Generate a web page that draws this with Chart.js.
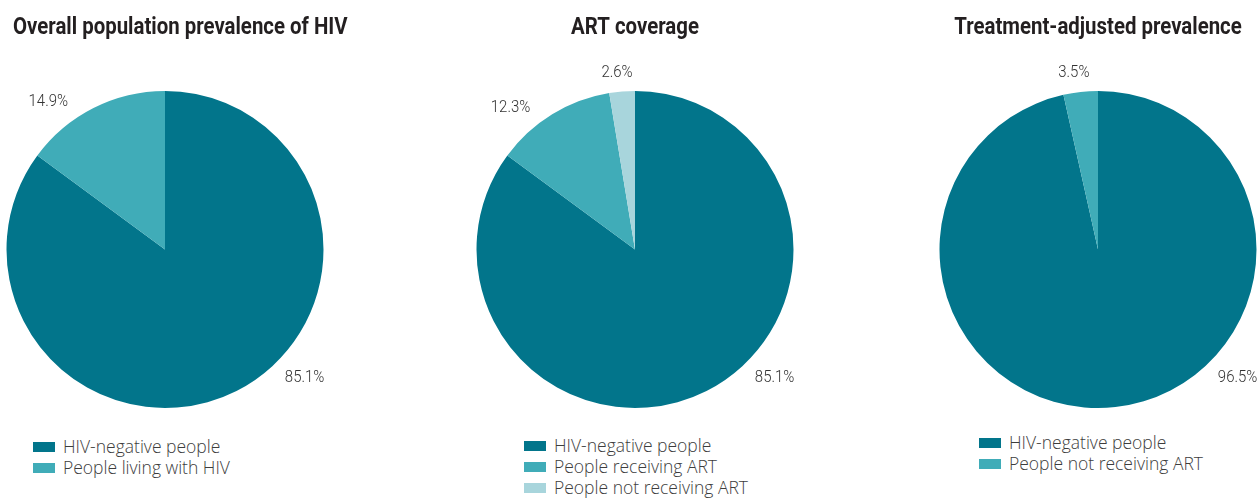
<!DOCTYPE html>
<html lang="en">
<head>
  <meta charset="UTF-8" />
  <title>HIV prevalence pies</title>
  <style>
    body {
      margin: 0;
      width: 1257px;
      height: 500px;
      overflow: hidden;
      background: #fff;
      position: relative;
      font-family: 'Open Sans', 'Noto Sans', sans-serif;
    }
    .pie {
      position: absolute;
      top: 0;
    }
    .legend {
      position: absolute;
      font-size: 17.5px;
      font-weight: 300;
      color: #3d3d3d;
      line-height: 21px;
    }
    .legend div {
      display: flex;
      align-items: center;
      white-space: nowrap;
    }
    .legend span.box {
      display: inline-block;
      width: 22px;
      height: 10px;
      margin-right: 8px;
    }
  </style>
</head>
<body>
  <canvas id="pie1" class="pie" width="400" height="420" style="left:-35px"></canvas>
  <canvas id="pie2" class="pie" width="400" height="420" style="left:435px"></canvas>
  <canvas id="pie3" class="pie" width="400" height="420" style="left:898px"></canvas>
  <div id="legend1" class="legend" style="left:33px; top:436px"></div>
  <div id="legend2" class="legend" style="left:524px; top:435px"></div>
  <div id="legend3" class="legend" style="left:979px; top:432px"></div>

  <script src="https://cdn.jsdelivr.net/npm/chart.js"></script>
  <script>
    const titles = ['Overall population prevalence of HIV', 'ART coverage', 'Treatment-adjusted prevalence'];

    const overallLabels = ['HIV-negative people', 'People living with HIV'];
    const overallValues = [85.1, 14.9];

    const artLabels = ['HIV-negative people', 'People receiving ART', 'People not receiving ART'];
    const artValues = [85.1, 12.3, 2.6];

    const adjustedLabels = ['HIV-negative people', 'People not receiving ART'];
    const adjustedValues = [96.5, 3.5];

    const colors = ['#02758b', '#40acb8', '#a8d5dc'];

    // no condensed font installed, so squeeze the text horizontally
    function condensedText(ctx, text, x, y, align, squeeze) {
      const w = ctx.measureText(text).width * squeeze;
      let left = x;
      if (align === 'center') left = x - w / 2;
      if (align === 'right') left = x - w;
      ctx.save();
      ctx.translate(left, y);
      ctx.scale(squeeze, 1);
      ctx.textAlign = 'left';
      ctx.fillText(text, 0, 0);
      ctx.restore();
    }

    // chart title, drawn condensed and kept inside the page on the left
    const condensedTitle = {
      id: 'condensedTitle',
      afterDraw(chart, args, opts) {
        const ctx = chart.ctx;
        const meta = chart.getDatasetMeta(0);
        const cx = meta.data[0].x;
        ctx.save();
        ctx.font = 'bold 24px Roboto, sans-serif';
        ctx.fillStyle = '#231f20';
        ctx.textBaseline = 'middle';
        const w = ctx.measureText(opts.text).width * 0.85;
        let left = cx - w / 2;
        const minLeft = 13 - chart.canvas.offsetLeft;
        if (left < minLeft) left = minLeft;
        condensedText(ctx, opts.text, left, 28, 'left', 0.85);
        ctx.restore();
      }
    };

    // percentage labels outside the slices
    const outsideLabels = {
      id: 'outsideLabels',
      afterDatasetsDraw(chart) {
        const ctx = chart.ctx;
        const meta = chart.getDatasetMeta(0);
        const values = chart.data.datasets[0].data;
        ctx.save();
        ctx.font = '300 17px Roboto, sans-serif';
        ctx.fillStyle = '#333';
        meta.data.forEach((arc, i) => {
          const p = arc.getProps(['x', 'y', 'startAngle', 'endAngle', 'outerRadius'], true);
          // big slice label sits at the lower right, small ones a bit before the slice middle
          const angle = values[i] > 50 ? Math.PI / 4 : p.startAngle + 0.35 * (p.endAngle - p.startAngle);
          const dx = Math.cos(angle), dy = Math.sin(angle);
          const r = p.outerRadius + 11;
          const align = dx < -0.3 ? 'right' : (dx > 0.3 ? 'left' : 'center');
          ctx.textBaseline = dy < -0.3 ? 'bottom' : (dy > 0.3 ? 'top' : 'middle');
          condensedText(ctx, values[i].toFixed(1) + '%', p.x + dx * r, p.y + dy * r, align, 0.88);
        });
        ctx.restore();
      }
    };

    function makePie(id, title, labels, values) {
      new Chart(document.getElementById(id), {
        type: 'pie',
        data: {
          labels: labels,
          datasets: [{
            data: values,
            backgroundColor: colors.slice(0, values.length),
            borderWidth: 0
          }]
        },
        options: {
          responsive: false,
          animation: false,
          layout: { padding: { top: 91, bottom: 12 } },
          plugins: {
            legend: { display: false },
            tooltip: { enabled: false },
            title: { display: false },
            condensedTitle: { text: title }
          }
        },
        plugins: [outsideLabels, condensedTitle]
      });
    }

    function makeLegend(id, labels) {
      const el = document.getElementById(id);
      labels.forEach((lab, i) => {
        const row = document.createElement('div');
        const box = document.createElement('span');
        box.className = 'box';
        box.style.background = colors[i];
        row.appendChild(box);
        row.appendChild(document.createTextNode(lab));
        el.appendChild(row);
      });
    }

    makePie('pie1', titles[0], overallLabels, overallValues);
    makePie('pie2', titles[1], artLabels, artValues);
    makePie('pie3', titles[2], adjustedLabels, adjustedValues);

    makeLegend('legend1', overallLabels);
    makeLegend('legend2', artLabels);
    makeLegend('legend3', adjustedLabels);
  </script>
</body>
</html>
